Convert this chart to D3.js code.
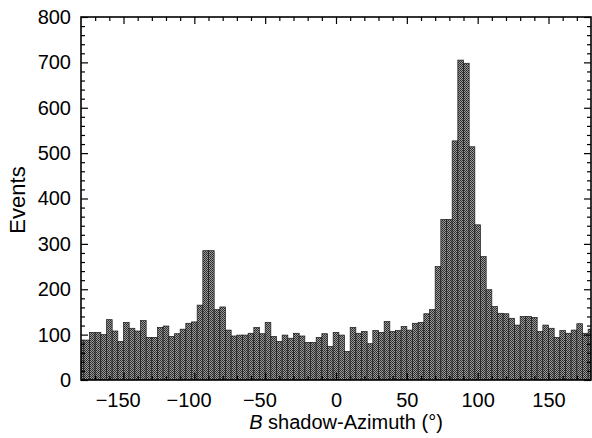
<!DOCTYPE html>
<html>
<head>
<meta charset="utf-8">
<script src="https://cdn.jsdelivr.net/npm/d3@7"></script>
<style>
  html, body { margin: 0; padding: 0; background: #fff; }
  svg { display: block; font-family: "Liberation Sans", Arial, Helvetica, sans-serif; }
</style>
</head>
<body>
<svg id="chart" width="592" height="438"></svg>
<script>
// ---- data (4-degree bins, labelled by bin centre) ----
const binCenters = [
  -180, -176, -172, -168, -164, -160, -156, -152, -148, -144,
  -140, -136, -132, -128, -124, -120, -116, -112, -108, -104,
  -100, -96, -92, -88, -84, -80, -76, -72, -68, -64,
  -60, -56, -52, -48, -44, -40, -36, -32, -28, -24,
  -20, -16, -12, -8, -4, 0, 4, 8, 12, 16,
  20, 24, 28, 32, 36, 40, 44, 48, 52, 56,
  60, 64, 68, 72, 76, 80, 84, 88, 92, 96,
  100, 104, 108, 112, 116, 120, 124, 128, 132, 136,
  140, 144, 148, 152, 156, 160, 164, 168, 172, 176,
  180
];
const events = [
  88, 88, 105, 105, 100, 133, 108, 85, 127, 114,
  108, 131, 94, 94, 116, 119, 96, 102, 112, 125,
  128, 165, 285, 285, 155, 161, 110, 97, 99, 99,
  103, 116, 102, 127, 96, 85, 99, 92, 103, 97,
  83, 83, 94, 102, 74, 105, 99, 63, 116, 103,
  107, 80, 109, 105, 129, 107, 109, 118, 110, 125,
  127, 146, 155, 250, 354, 354, 527, 705, 698, 514,
  342, 272, 199, 162, 147, 146, 136, 121, 140, 140,
  138, 107, 121, 114, 94, 109, 103, 110, 124, 103,
  112
];
const binWidth = 4;
const xTickValues = [-150, -100, -50, 0, 50, 100, 150];
const yTickValues = [0, 100, 200, 300, 400, 500, 600, 700, 800];
const xLabelMain = "B";
const xLabelRest = " shadow-Azimuth (°)";
const yLabel = "Events";

// ---- layout ----
const svg = d3.select("#chart");
const plot = { left: 81, right: 591, top: 17, bottom: 380 };

const x = d3.scaleLinear().domain([-180, 180]).range([plot.left, plot.right]);
const y = d3.scaleLinear().domain([0, 800]).range([plot.bottom, plot.top]);

const defs = svg.append("defs");
defs.append("clipPath").attr("id", "clip")
  .append("rect")
  .attr("x", plot.left).attr("y", plot.top)
  .attr("width", plot.right - plot.left).attr("height", plot.bottom - plot.top);

// halftone-like fill
const pat = defs.append("pattern").attr("id", "dots")
  .attr("patternUnits", "userSpaceOnUse").attr("width", 2).attr("height", 2);
pat.append("rect").attr("width", 2).attr("height", 2).attr("fill", "#9c9c9c");
pat.append("rect").attr("x", 0).attr("y", 0).attr("width", 1).attr("height", 1).attr("fill", "#262626");
pat.append("rect").attr("x", 1).attr("y", 1).attr("width", 1).attr("height", 1).attr("fill", "#353535");

const data = binCenters.map((c, i) => ({ c, v: events[i] }));

svg.append("g").attr("clip-path", "url(#clip)")
  .selectAll("rect").data(data).join("rect")
  .attr("x", d => x(d.c - binWidth / 2))
  .attr("width", d => x(d.c + binWidth / 2) - x(d.c - binWidth / 2))
  .attr("y", d => y(d.v))
  .attr("height", d => y(0) - y(d.v))
  .attr("fill", "url(#dots)")
  .attr("stroke", "#1a1a1a")
  .attr("stroke-width", 0.7);

// ---- axes (ticks inward on all four sides) ----
const fs = 20;
const majorLen = 7, minorLen = 4;

function styleAxis(g) {
  g.select(".domain").remove();
  g.selectAll(".tick line").attr("stroke", "#000").attr("stroke-width", 1.2);
  g.selectAll("text").attr("fill", "#000").style("font-size", fs + "px")
    .style("font-family", "'Liberation Sans', Arial, sans-serif");
}

const xMinor = d3.range(-170, 180, 10).filter(v => v % 50 !== 0);
const yMinor = d3.range(20, 800, 20).filter(v => v % 100 !== 0);

// bottom (digits centred on the tick, minus sign hanging to the left)
svg.append("g").attr("transform", `translate(0,${plot.bottom})`)
  .call(d3.axisBottom(x).tickValues(xTickValues).tickSize(-majorLen).tickPadding(13))
  .call(styleAxis)
  .call(g => g.selectAll(".tick text").attr("dx", d => d < 0 ? "-0.29em" : null));
svg.append("g").attr("transform", `translate(0,${plot.bottom})`)
  .call(d3.axisBottom(x).tickValues(xMinor).tickSize(-minorLen).tickFormat(""))
  .call(styleAxis);
// top
svg.append("g").attr("transform", `translate(0,${plot.top})`)
  .call(d3.axisTop(x).tickValues(xTickValues).tickSize(-majorLen).tickFormat(""))
  .call(styleAxis);
svg.append("g").attr("transform", `translate(0,${plot.top})`)
  .call(d3.axisTop(x).tickValues(xMinor).tickSize(-minorLen).tickFormat(""))
  .call(styleAxis);
// left
svg.append("g").attr("transform", `translate(${plot.left},0)`)
  .call(d3.axisLeft(y).tickValues(yTickValues).tickSize(-majorLen).tickPadding(10))
  .call(styleAxis);
svg.append("g").attr("transform", `translate(${plot.left},0)`)
  .call(d3.axisLeft(y).tickValues(yMinor).tickSize(-minorLen).tickFormat(""))
  .call(styleAxis);
// right
svg.append("g").attr("transform", `translate(${plot.right},0)`)
  .call(d3.axisRight(y).tickValues(yTickValues).tickSize(-majorLen).tickFormat(""))
  .call(styleAxis);
svg.append("g").attr("transform", `translate(${plot.right},0)`)
  .call(d3.axisRight(y).tickValues(yMinor).tickSize(-minorLen).tickFormat(""))
  .call(styleAxis);

// frame
svg.append("rect")
  .attr("x", plot.left).attr("y", plot.top)
  .attr("width", plot.right - plot.left).attr("height", plot.bottom - plot.top)
  .attr("fill", "none").attr("stroke", "#000").attr("stroke-width", 1.6);

// axis titles
const xt = svg.append("text")
  .attr("x", 346).attr("y", 429)
  .attr("text-anchor", "middle")
  .style("font-size", fs + "px").attr("fill", "#000");
xt.append("tspan").style("font-style", "italic").text(xLabelMain);
xt.append("tspan").text(xLabelRest);

svg.append("text")
  .attr("transform", `translate(25,200) rotate(-90)`)
  .attr("text-anchor", "middle")
  .style("font-size", "22px").attr("fill", "#000")
  .text(yLabel);
</script>
</body>
</html>
